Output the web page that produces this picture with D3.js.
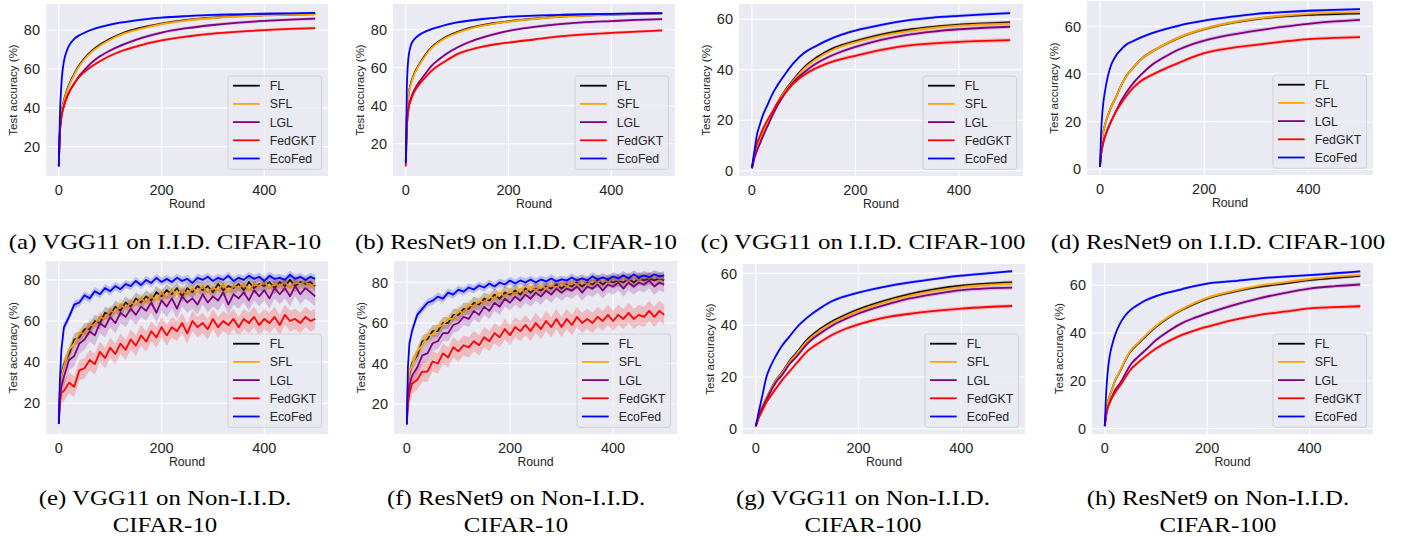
<!DOCTYPE html>
<html>
<head>
<meta charset="utf-8">
<script src="https://cdn.jsdelivr.net/npm/d3@7"></script>
<style>
  body { margin: 0; background: #fff; }
  svg { display: block; }
</style>
</head>
<body>
<svg id="fig" width="1404" height="540"></svg>
<script>
// ---- data ----
const seriesNames = ["FL", "SFL", "LGL", "FedGKT", "EcoFed"];
const seriesColors = ["#000000", "#ffa500", "#800080", "#ff0000", "#0000ff"];

const roundsIID = [0, 2, 5, 10, 15, 20, 30, 40, 50, 65, 80, 100, 125, 150, 175, 200, 250, 300, 350, 400, 450, 499];
const roundsNonIID = [0, 2, 5, 10, 20, 30, 40, 50, 60, 70, 80, 90, 100, 110, 120, 130, 140, 150, 160, 170, 180, 190,
  200, 210, 220, 230, 240, 250, 260, 270, 280, 290, 300, 310, 320, 330, 340, 350, 360, 370, 380, 390,
  400, 410, 420, 430, 440, 450, 460, 470, 480, 490, 499];

// (a) VGG11, I.I.D. CIFAR-10  -- order: FL, SFL, LGL, FedGKT, EcoFed
const accA = [
  [10, 28, 37, 44, 48.5, 52, 57.5, 62, 65.5, 69.5, 72.5, 75.5, 78.5, 80.5, 82, 83.3, 85.2, 86.4, 87.2, 87.7, 88, 88.2],
  [10, 28, 37, 43.5, 48, 51.5, 57, 61.5, 65, 69, 72, 75, 78, 80, 81.6, 83, 85, 86.2, 87, 87.6, 88, 88.2],
  [10, 27, 35, 41, 45, 48, 52.5, 56.5, 59.5, 63.5, 66.5, 69.5, 72.5, 75, 77, 78.7, 81, 82.6, 83.8, 84.7, 85.4, 85.9],
  [10, 27, 35, 41, 45, 48, 52.5, 56, 58.5, 61.5, 64, 66.8, 69.5, 71.5, 73.3, 74.7, 76.7, 78.2, 79.2, 80, 80.6, 81],
  [10, 35, 52, 64, 69, 72, 75.5, 77.3, 78.6, 80.3, 81.5, 82.8, 84, 85, 85.8, 86.4, 87.2, 87.8, 88.1, 88.4, 88.6, 88.8]
];
// (b) ResNet9, I.I.D. CIFAR-10
const accB = [
  [10, 35, 45, 52, 56, 59, 63.5, 67.5, 70.7, 74, 76.5, 78.8, 81, 82.5, 83.6, 84.5, 85.9, 87, 87.6, 88, 88.4, 88.7],
  [10, 35, 45, 51.5, 55.5, 58.5, 63, 67, 70.3, 73.6, 76.1, 78.4, 80.6, 82.2, 83.4, 84.3, 85.8, 86.9, 87.5, 88, 88.4, 88.7],
  [10, 28, 38, 44, 47.5, 50, 54, 57.5, 61, 64.5, 67.5, 70.7, 73.7, 76, 77.9, 79.5, 81.5, 83, 84, 84.6, 85.2, 85.6],
  [8, 28, 38, 43, 46.5, 49, 52.5, 55.5, 58.4, 61.5, 64, 67.2, 69.5, 71.2, 72.4, 73.3, 74.9, 76.5, 77.6, 78.4, 79.1, 79.7],
  [10, 50, 65, 72, 74.5, 76, 78, 79.3, 80.4, 81.6, 82.7, 83.9, 84.9, 85.7, 86.3, 86.9, 87.5, 87.9, 88.2, 88.4, 88.6, 88.8]
];
// (c) VGG11, I.I.D. CIFAR-100
const accC = [
  [1, 3, 6, 9.5, 12, 14.5, 19, 23, 27, 32, 36, 40.7, 44.8, 47.8, 49.8, 51.3, 53.9, 55.7, 56.9, 57.8, 58.3, 58.7],
  [1, 3, 6, 9.5, 12, 14.5, 19, 23, 27, 31.7, 35.6, 40.2, 44.2, 47.2, 49.3, 50.8, 53.4, 55.2, 56.5, 57.4, 57.9, 58.2],
  [1, 2.5, 5, 8, 10.5, 13, 17.5, 22, 26, 31, 35, 38.8, 42.5, 45.2, 47.3, 49, 51.8, 53.8, 55.1, 56, 56.6, 57],
  [1, 3.5, 7, 11, 13.5, 16, 20, 23.5, 27, 31, 34.5, 37.8, 40.7, 42.8, 44.3, 45.5, 47.8, 49.5, 50.4, 51, 51.4, 51.7],
  [1, 4, 8, 14.5, 18, 21.3, 26, 30.5, 34, 38.5, 42.5, 46.5, 49.5, 52, 54, 55.5, 57.7, 59.5, 60.6, 61.3, 61.9, 62.4]
];
// (d) ResNet9, I.I.D. CIFAR-100
const accD = [
  [1, 8, 14, 19, 22.5, 25.5, 30, 35, 39, 43, 46.5, 49.5, 52.5, 55.1, 57.2, 58.9, 61.4, 63.1, 64.2, 64.9, 65.2, 65.5],
  [1, 8, 14, 19, 22.5, 25.5, 30, 35, 39, 43, 46.5, 49.5, 52.6, 55.2, 57.3, 59, 61.5, 63.3, 64.5, 65.3, 65.8, 66],
  [1, 6, 10, 14, 17, 19.5, 24, 28.5, 32, 36.5, 40, 43.9, 47.3, 50.2, 52.4, 54.1, 56.5, 58.3, 59.8, 61.1, 62.1, 62.8],
  [1, 6, 10, 14, 17, 19.5, 24, 27.5, 30.6, 34.5, 37.3, 39.7, 42.3, 44.6, 46.9, 48.8, 50.9, 52.3, 53.6, 54.7, 55.2, 55.5],
  [1, 15, 25, 33.4, 39, 43, 47.5, 50.2, 52.3, 54, 55.5, 57.2, 58.9, 60.3, 61.5, 62.5, 64, 65.3, 66, 66.6, 67, 67.3]
];
// (e) VGG11, Non-I.I.D. CIFAR-10
const accE = [
  [10, 26, 34, 39, 44, 51, 52, 56, 56, 60, 59, 64, 63, 67, 65, 69, 67, 71, 69, 72, 70, 74, 72, 75, 73, 76, 72, 76, 74, 77, 75, 77, 74, 78, 75, 77, 76, 78, 75, 79, 76, 78, 77, 79, 76, 79, 77, 80, 77, 79, 78, 79, 77],
  [10, 25, 33, 38, 46, 49, 54, 54, 58, 58, 62, 61, 65, 64, 68, 66, 69, 68, 71, 69, 72, 70, 74, 71, 75, 73, 75, 73, 76, 74, 77, 74, 76, 75, 78, 74, 77, 76, 78, 75, 78, 77, 79, 76, 78, 77, 79, 76, 79, 78, 79, 77, 78],
  [10, 22, 28, 33, 41, 43, 49, 51, 55, 53, 59, 57, 62, 59, 64, 62, 66, 63, 67, 65, 69, 64, 70, 67, 71, 66, 72, 69, 71, 68, 73, 69, 72, 70, 74, 68, 73, 71, 74, 70, 75, 72, 75, 71, 76, 73, 76, 72, 77, 73, 76, 74, 72],
  [10, 20, 25, 26, 30, 28, 36, 37, 41, 39, 45, 42, 47, 44, 49, 46, 51, 48, 53, 50, 55, 52, 57, 53, 57, 55, 59, 54, 60, 57, 59, 56, 61, 57, 60, 58, 61, 57, 61, 59, 62, 58, 61, 59, 62, 58, 63, 60, 61, 59, 62, 60, 61],
  [10, 31, 46, 57, 62, 68, 69, 72.5, 71, 74.5, 73, 76, 74.5, 77, 75.5, 78, 77, 79.5, 77.5, 80, 78.5, 81, 79, 80.5, 79, 81, 79.5, 80.5, 78.5, 81, 80, 81.5, 79.5, 81, 80, 82, 79.5, 81, 80, 82, 80.5, 81.5, 79.5, 82, 80.5, 81, 80, 82.5, 80.5, 81.5, 80, 81.5, 80.5]
];
// (f) ResNet9, Non-I.I.D. CIFAR-10
const accF = [
  [10, 30, 35, 40, 44, 51, 52, 56, 56, 60, 60, 64, 64, 67, 67, 70, 69, 72, 71, 74, 72, 75, 74, 76, 74, 77, 75, 77, 76, 78, 77, 79, 77, 79, 78, 80, 78, 80, 79, 81, 79, 81, 80, 81, 80, 82, 80, 82, 81, 82, 81, 82, 81],
  [10, 30, 36, 39, 46, 49, 54, 54, 58, 59, 62, 62, 66, 65, 69, 68, 71, 70, 73, 72, 75, 73, 76, 74, 77, 75, 78, 76, 78, 77, 79, 77, 80, 78, 80, 79, 81, 79, 81, 80, 82, 80, 82, 81, 82, 81, 83, 81, 83, 82, 83, 82, 82],
  [10, 24, 29, 34, 38, 44, 45, 50, 51, 55, 55, 59, 60, 63, 62, 66, 64, 68, 66, 70, 68, 72, 70, 73, 71, 74, 72, 75, 73, 76, 74, 77, 75, 77, 76, 78, 75, 78, 77, 79, 76, 79, 78, 80, 77, 80, 78, 80, 79, 81, 78, 80, 79],
  [10, 20, 25, 30, 32, 36, 36, 41, 40, 45, 43, 48, 46, 49, 48, 51, 49, 53, 51, 55, 53, 57, 54, 58, 56, 59, 56, 60, 57, 61, 58, 62, 58, 62, 59, 63, 60, 62, 60, 63, 61, 64, 61, 64, 62, 65, 62, 64, 63, 66, 63, 66, 64],
  [10, 38, 50, 56, 64, 67, 70, 71, 73, 72, 75, 74, 76.5, 75.5, 77.5, 76.5, 78.5, 77.5, 79.5, 78, 80, 79, 81, 79.5, 81, 80, 81.5, 80, 81.5, 80.5, 82, 80.5, 81.5, 81, 82.5, 81, 82, 81, 83, 81.5, 82.5, 81.5, 83, 82, 83.5, 82, 84, 82.5, 83.5, 82.5, 84, 83, 83.5]
];
// (g) VGG11, Non-I.I.D. CIFAR-100
const accG = [
  [1, 2.5, 4.5, 7.5, 9.5, 11.5, 15.5, 19, 21.5, 26, 29.5, 34.4, 38.5, 41.6, 44, 46.1, 49.4, 52, 53.9, 55.2, 56, 56.5],
  [1, 2.5, 4.5, 7.5, 9.5, 11.5, 15.3, 18.8, 21.2, 25.6, 29, 33.8, 37.9, 41, 43.4, 45.5, 48.8, 51.4, 53.3, 54.7, 55.5, 56],
  [1, 2.3, 4.2, 7, 9, 11, 14.8, 18.2, 20.5, 24.8, 28, 32.8, 36.8, 40, 42.4, 44.5, 47.7, 50.3, 52.1, 53.5, 54.2, 54.5],
  [1, 2, 3.8, 6, 8, 10, 13, 15.8, 18.5, 22, 25.5, 29.9, 33.4, 36.4, 38.6, 40.3, 42.9, 44.4, 45.5, 46.4, 47, 47.4],
  [1, 3, 6, 10.4, 15, 19.5, 24.7, 28.5, 31.8, 35.5, 39.2, 42.9, 46.5, 49.4, 51.2, 52.6, 54.8, 56.5, 57.9, 59.1, 60, 60.8]
];
// (h) ResNet9, Non-I.I.D. CIFAR-100
const accH = [
  [1, 6, 10, 14, 17, 20, 24, 28.5, 32.2, 35.5, 38.7, 42.6, 46.5, 49.6, 52.2, 54.4, 57.2, 59.3, 60.7, 62.1, 63.1, 63.9],
  [1, 6, 10, 14, 17, 20, 24.2, 28.8, 32.5, 35.8, 39, 42.9, 46.8, 49.9, 52.5, 54.7, 57.5, 59.7, 61.2, 62.6, 63.6, 64.3],
  [1, 4.5, 8, 11, 13.8, 16, 19, 22.8, 26.6, 30, 32.9, 37, 40.8, 44, 46.3, 48.2, 51.6, 54.4, 56.7, 58.6, 59.6, 60.3],
  [1, 4.5, 8, 11, 13.2, 15, 18, 21.3, 24.5, 27.6, 30.3, 33.5, 36.6, 39.1, 41, 42.6, 45.4, 47.5, 48.9, 50.3, 50.8, 51.2],
  [1, 12, 22, 30.8, 35.5, 39.1, 44, 47.3, 49.6, 51.8, 53.7, 55.4, 57, 58.3, 59.6, 60.7, 61.7, 62.8, 63.6, 64.2, 65, 65.8]
];

// half width of the shaded band (std over runs), per series
const spreadIID = [0.7, 0.7, 0.8, 0.8, 0.6];
const spreadE = [3, 3, 5, 5, 2];
const spreadF = [3, 3, 4, 5, 2];

const yDomains = [[5, 93.4], [3, 93.6], [-2.1, 66], [-2.4, 70.7], [5, 89.2], [5.2, 90.6], [-2, 63.6], [-2.3, 69.3]];
const xDomain = [-24.95, 523.95];

const captions = [
  ["(a) VGG11 on I.I.D. CIFAR-10"],
  ["(b) ResNet9 on I.I.D. CIFAR-10"],
  ["(c) VGG11 on I.I.D. CIFAR-100"],
  ["(d) ResNet9 on I.I.D. CIFAR-100"],
  ["(e) VGG11 on Non-I.I.D.", "CIFAR-10"],
  ["(f) ResNet9 on Non-I.I.D.", "CIFAR-10"],
  ["(g) VGG11 on Non-I.I.D.", "CIFAR-100"],
  ["(h) ResNet9 on Non-I.I.D.", "CIFAR-100"]
];

// ---- layout ----
const panels = [
  { acc: accA, rounds: roundsIID, spread: spreadIID, box: [46, 328, 4, 176], cap: 165 },
  { acc: accB, rounds: roundsIID, spread: spreadIID, box: [393, 675, 4, 176], cap: 516 },
  { acc: accC, rounds: roundsIID, spread: spreadIID, box: [739, 1023, 4, 176], cap: 863 },
  { acc: accD, rounds: roundsIID, spread: spreadIID, box: [1087, 1373, 1, 175], cap: 1218 },
  { acc: accE, rounds: roundsNonIID, spread: spreadE, box: [46, 328, 261, 434], cap: 165 },
  { acc: accF, rounds: roundsNonIID, spread: spreadF, box: [394, 677, 261, 434], cap: 516 },
  { acc: accG, rounds: roundsIID, spread: spreadIID, box: [743, 1025, 264, 434], cap: 863 },
  { acc: accH, rounds: roundsIID, spread: spreadIID, box: [1092, 1373, 263, 434], cap: 1218 }
];

const sans = "'Liberation Sans', Arial, sans-serif";
const serif = "'Liberation Serif', 'Times New Roman', serif";
const svg = d3.select("#fig");

panels.forEach((p, pi) => {
  const [x0, x1, y0, y1] = p.box;
  const x = d3.scaleLinear().domain(xDomain).range([x0, x1]);
  const y = d3.scaleLinear().domain(yDomains[pi]).range([y1, y0]);
  const noisy = p.rounds === roundsNonIID;

  const g = svg.append("g");
  const clipId = "clip" + pi;
  g.append("clipPath").attr("id", clipId)
    .append("rect").attr("x", x0).attr("y", y0).attr("width", x1 - x0).attr("height", y1 - y0);

  g.append("rect")
    .attr("x", x0).attr("y", y0)
    .attr("width", x1 - x0).attr("height", y1 - y0)
    .attr("fill", "#eaeaf2");

  // grid
  const xt = x.ticks(3), yt = y.ticks(4);
  g.selectAll(".gx").data(xt).join("line")
    .attr("class", "gx")
    .attr("x1", d => x(d)).attr("x2", d => x(d))
    .attr("y1", y0).attr("y2", y1)
    .attr("stroke", "#fff").attr("stroke-width", 1.1);
  g.selectAll(".gy").data(yt).join("line")
    .attr("class", "gy")
    .attr("x1", x0).attr("x2", x1)
    .attr("y1", d => y(d)).attr("y2", d => y(d))
    .attr("stroke", "#fff").attr("stroke-width", 1.1);

  // tick labels
  g.selectAll(".tx").data(xt).join("text")
    .attr("class", "tx")
    .attr("x", d => x(d)).attr("y", y1 + 19)
    .attr("text-anchor", "middle")
    .style("font", `14.5px ${sans}`).attr("fill", "#262626")
    .text(d => d);
  g.selectAll(".ty").data(yt).join("text")
    .attr("class", "ty")
    .attr("x", x0 - 6).attr("y", d => y(d) + 5.2)
    .attr("text-anchor", "end")
    .style("font", `14.5px ${sans}`).attr("fill", "#262626")
    .text(d => d);

  g.append("text")
    .attr("x", (x0 + x1) / 2).attr("y", y1 + 32)
    .attr("text-anchor", "middle")
    .style("font", `12.3px ${sans}`).attr("fill", "#262626")
    .text("Round");
  g.append("text")
    .attr("transform", `translate(${x0 - 33},${(y0 + y1) / 2}) rotate(-90)`)
    .attr("dy", "0.35em")
    .attr("text-anchor", "middle")
    .style("font", `11.5px ${sans}`).attr("fill", "#262626")
    .text("Test accuracy (%)");

  // series: band first, then the mean line
  const plot = g.append("g").attr("clip-path", `url(#${clipId})`);
  const curve = noisy ? d3.curveLinear : d3.curveMonotoneX;
  p.acc.forEach((vals, si) => {
    const pts = vals.map((v, k) => [p.rounds[k], v]);
    const s = p.spread[si];
    plot.append("path")
      .datum(pts)
      .attr("fill", seriesColors[si]).attr("fill-opacity", 0.2)
      .attr("d", d3.area().curve(curve)
        .x(d => x(d[0])).y0(d => y(d[1] - s)).y1(d => y(d[1] + s)));
    plot.append("path")
      .datum(pts)
      .attr("fill", "none")
      .attr("stroke", seriesColors[si])
      .attr("stroke-width", 1.8)
      .attr("stroke-linejoin", "round")
      .attr("d", d3.line().curve(curve).x(d => x(d[0])).y(d => y(d[1])));
  });

  // legend
  const lw = 93.5, lh = 93.3;
  const lx = x1 - 6.5 - lw, ly = y1 - 6.7 - lh;
  const leg = g.append("g");
  leg.append("rect")
    .attr("x", lx).attr("y", ly).attr("width", lw).attr("height", lh)
    .attr("rx", 2.5)
    .attr("fill", "#eaeaf2").attr("fill-opacity", 0.8)
    .attr("stroke", "#cccccc").attr("stroke-width", 0.8);
  seriesNames.forEach((name, si) => {
    const ry = ly + 9.7 + si * 18.2;
    leg.append("line")
      .attr("x1", lx + 5).attr("x2", lx + 31.7)
      .attr("y1", ry).attr("y2", ry)
      .attr("stroke", seriesColors[si]).attr("stroke-width", 1.8);
    leg.append("text")
      .attr("x", lx + 41.7).attr("y", ry).attr("dy", "0.36em")
      .style("font", `12.3px ${sans}`).attr("fill", "#262626")
      .text(name);
  });

  // caption (Palatino-like width: stretch the serif a little)
  const capLines = captions[pi];
  const baseY = pi < 4 ? 249 : 505;
  capLines.forEach((line, li) => {
    const t = svg.append("text")
      .attr("x", p.cap).attr("y", baseY + li * 27)
      .attr("text-anchor", "middle")
      .style("font", `22px ${serif}`).attr("fill", "#000")
      .text(line);
    const natural = t.node().getComputedTextLength();
    t.attr("textLength", natural * 1.13).attr("lengthAdjust", "spacingAndGlyphs");
  });
});
</script>
</body>
</html>
